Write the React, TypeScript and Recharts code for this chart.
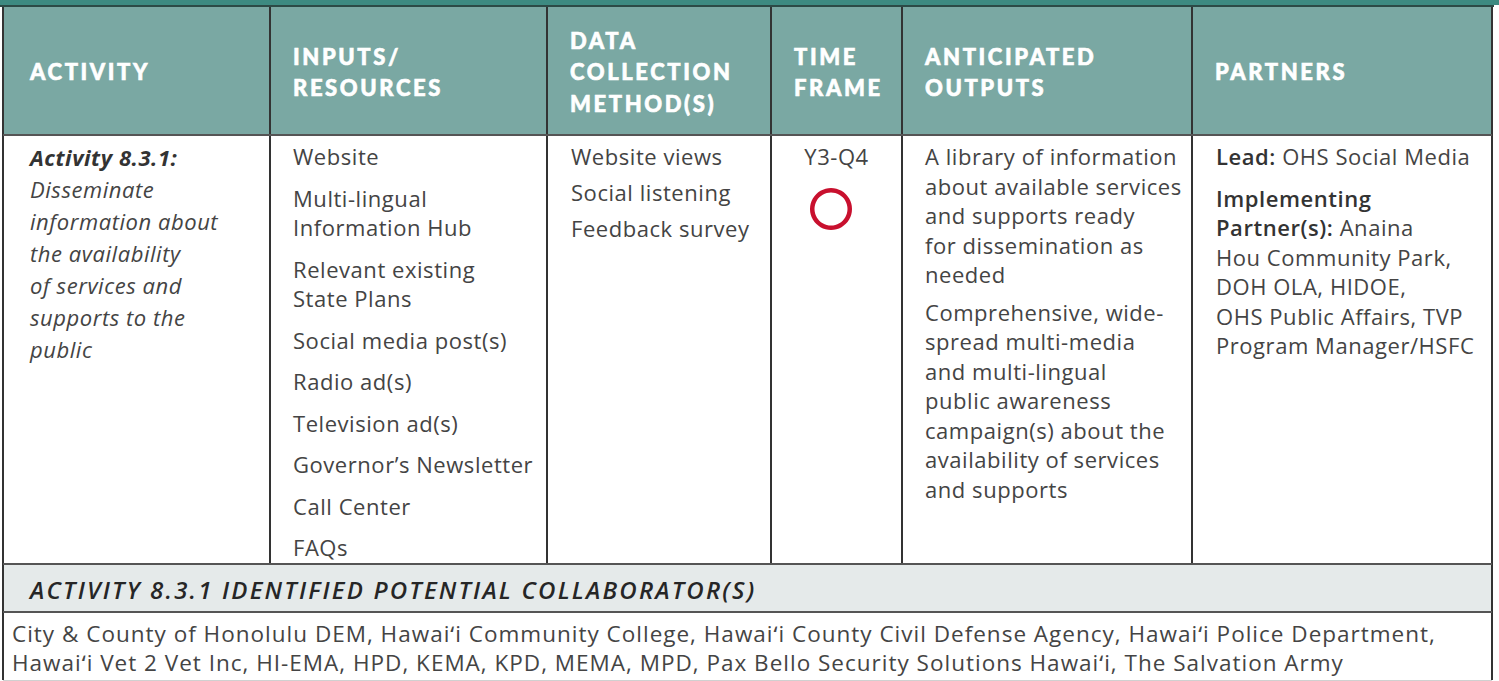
import React from 'react'
import { PieChart, Pie, Cell } from 'recharts'

// table content
const headers = [
  ['ACTIVITY'],
  ['INPUTS/', 'RESOURCES'],
  ['DATA', 'COLLECTION', 'METHOD(S)'],
  ['TIME', 'FRAME'],
  ['ANTICIPATED', 'OUTPUTS'],
  ['PARTNERS'],
]

const activityTitle = 'Activity 8.3.1:'
const activityLines = [
  'Disseminate',
  'information about',
  'the availability',
  'of services and',
  'supports to the',
  'public',
]

const inputs = [
  ['Website'],
  ['Multi-lingual', 'Information Hub'],
  ['Relevant existing', 'State Plans'],
  ['Social media post(s)'],
  ['Radio ad(s)'],
  ['Television ad(s)'],
  ['Governor\u2019s Newsletter'],
  ['Call Center'],
  ['FAQs'],
]

const dataMethods = ['Website views', 'Social listening', 'Feedback survey']

const timeFrame = 'Y3-Q4'
// status marker: one open ring = not started
const status = [{ name: 'Y3-Q4', value: 1 }]
const STATUS_COLOR = '#c8102e'

const outputs = [
  ['A library of information', 'about available services', 'and supports ready', 'for dissemination as', 'needed'],
  ['Comprehensive, wide-', 'spread multi-media', 'and multi-lingual', 'public awareness', 'campaign(s) about the', 'availability of services', 'and supports'],
]

const partners = [
  { label: 'Lead:', lines: [' OHS Social Media'] },
  {
    label: 'Implementing',
    lines: ['', 'Partner(s):|| Anaina', 'Hou Community Park,', 'DOH OLA, HIDOE,', 'OHS Public Affairs, TVP', 'Program Manager/HSFC'],
  },
]

const collaboratorsTitle = 'ACTIVITY 8.3.1 IDENTIFIED POTENTIAL COLLABORATOR(S)'
const collaborators = [
  'City & County of Honolulu DEM, Hawai\u02bbi Community College, Hawai\u02bbi County Civil Defense Agency, Hawai\u02bbi Police Department,',
  'Hawai\u02bbi Vet 2 Vet Inc, HI-EMA, HPD, KEMA, KPD, MEMA, MPD, Pax Bello Security Solutions Hawai\u02bbi, The Salvation Army',
]

const COL_X = [3, 270, 547, 771, 902, 1192, 1492]
const HEAD_TOP = 7
const BODY_TOP = 135
const COLLAB_TOP = 564
const LIST_TOP = 612
const BOTTOM = 680

const TEAL = '#7aa8a3'
const TEXT = '#444'
const LINE = '#333'
const FONT = '"Open Sans", "Noto Sans", sans-serif'
const HEAD_FONT = 'Lato, "Open Sans", sans-serif'

const abs = (s: React.CSSProperties): React.CSSProperties => ({ position: 'absolute', ...s })

function StatusRing() {
  return (
    <PieChart width={50} height={50} margin={{ top: 0, right: 0, bottom: 0, left: 0 }}>
      <Pie
        data={status}
        dataKey="value"
        cx={25}
        cy={25}
        innerRadius={16.5}
        outerRadius={21}
        startAngle={90}
        endAngle={-270}
        stroke="none"
        isAnimationActive={false}
      >
        {status.map((s, i) => (
          <Cell key={`ring-${i}`} fill={STATUS_COLOR} />
        ))}
      </Pie>
    </PieChart>
  )
}

export default function App() {
  const bodyText: React.CSSProperties = {
    fontFamily: FONT,
    fontSize: 22,
    letterSpacing: 0.55,
    lineHeight: '29.5px',
    color: TEXT,
    whiteSpace: 'nowrap',
  }
  const bold: React.CSSProperties = { fontWeight: 600, color: '#333' }

  return (
    <div style={abs({ left: 0, top: 0, width: 1499, height: 681, background: '#fff', overflow: 'hidden' })}>
      {/* top band */}
      <div style={abs({ left: 0, top: 0, width: 1499, height: 5, background: '#3d8a81' })} />
      <div style={abs({ left: 0, top: 5, width: 1494, height: 2, background: '#2c4a46' })} />
      <div style={abs({ left: COL_X[0], top: HEAD_TOP, width: COL_X[6] - COL_X[0], height: BODY_TOP - HEAD_TOP, background: TEAL })} />
      <div style={abs({ left: COL_X[0], top: COLLAB_TOP, width: COL_X[6] - COL_X[0], height: LIST_TOP - COLLAB_TOP, background: '#e5eaea' })} />

      {/* header cells */}
      {headers.map((h, i) => (
        <div
          key={`h-${i}`}
          style={abs({
            left: COL_X[i] + (i === 0 ? 27 : 23),
            top: HEAD_TOP + 1,
            height: BODY_TOP - HEAD_TOP,
            display: 'flex',
            flexDirection: 'column',
            justifyContent: 'center',
            fontFamily: HEAD_FONT,
            fontWeight: 900,
            fontSize: 22,
            letterSpacing: 2.6,
            lineHeight: '31.5px',
            color: '#fff',
            WebkitTextStroke: '0.6px #fff',
            whiteSpace: 'nowrap',
          })}
        >
          {h.map((l) => (
            <div key={l}>{l}</div>
          ))}
        </div>
      ))}

      {/* activity */}
      <div style={abs({ left: COL_X[0] + 27, top: BODY_TOP + 6, ...bodyText, lineHeight: '32px', fontStyle: 'italic' })}>
        <div style={{ fontWeight: 700, color: '#333' }}>{activityTitle}</div>
        {activityLines.map((l) => (
          <div key={l}>{l}</div>
        ))}
      </div>

      {/* inputs */}
      <div style={abs({ left: COL_X[1] + 23, top: BODY_TOP + 7, ...bodyText })}>
        {inputs.map((item, i) => (
          <div key={`in-${i}`} style={{ marginBottom: 12 }}>
            {item.map((l) => (
              <div key={l}>{l}</div>
            ))}
          </div>
        ))}
      </div>

      {/* data collection */}
      <div style={abs({ left: COL_X[2] + 24, top: BODY_TOP + 7, ...bodyText })}>
        {dataMethods.map((l) => (
          <div key={l} style={{ marginBottom: 6.5 }}>
            {l}
          </div>
        ))}
      </div>

      {/* time frame */}
      <div style={abs({ left: COL_X[3], width: COL_X[4] - COL_X[3], top: BODY_TOP + 7, ...bodyText, textAlign: 'center' })}>
        {timeFrame}
      </div>
      <div style={abs({ left: 806, top: 184, width: 50, height: 50 })}>
        <StatusRing />
      </div>

      {/* outputs */}
      <div style={abs({ left: COL_X[4] + 23, top: BODY_TOP + 7, ...bodyText })}>
        {outputs.map((item, i) => (
          <div key={`out-${i}`} style={{ marginBottom: 8 }}>
            {item.map((l) => (
              <div key={l}>{l}</div>
            ))}
          </div>
        ))}
      </div>

      {/* partners */}
      <div style={abs({ left: COL_X[5] + 24, top: BODY_TOP + 7, ...bodyText })}>
        {partners.map((p, i) => (
          <div key={`p-${i}`} style={{ marginBottom: 12 }}>
            <div>
              <b style={bold}>{p.label}</b>
              {p.lines[0]}
            </div>
            {p.lines.slice(1).map((l) => {
              const [b, rest] = l.includes('||') ? l.split('||') : ['', l]
              return (
                <div key={l}>
                  {b && <b style={bold}>{b}</b>}
                  {rest}
                </div>
              )
            })}
          </div>
        ))}
      </div>

      {/* collaborators */}
      <div
        style={abs({
          left: COL_X[0] + 27,
          top: COLLAB_TOP + 1,
          height: LIST_TOP - COLLAB_TOP,
          display: 'flex',
          alignItems: 'center',
          fontFamily: FONT,
          fontSize: 24,
          fontWeight: 600,
          fontStyle: 'italic',
          letterSpacing: 2.2,
          color: '#262626',
          whiteSpace: 'nowrap',
        })}
      >
        {collaboratorsTitle}
      </div>
      <div style={abs({ left: COL_X[0] + 9, top: LIST_TOP + 7, ...bodyText, fontSize: 22.5, letterSpacing: 1, lineHeight: '29px' })}>
        {collaborators.map((l) => (
          <div key={l}>{l}</div>
        ))}
      </div>

      {/* grid lines */}
      {COL_X.slice(1, 6).map((x) => (
        <div key={`v-${x}`} style={abs({ left: x - 0.75, top: HEAD_TOP, width: 1.5, height: COLLAB_TOP - HEAD_TOP, background: LINE })} />
      ))}
      <div style={abs({ left: COL_X[0] - 1, top: HEAD_TOP, width: 2, height: BOTTOM - HEAD_TOP, background: LINE })} />
      <div style={abs({ left: COL_X[6] - 1, top: HEAD_TOP, width: 2, height: BOTTOM - HEAD_TOP, background: LINE })} />
      <div style={abs({ left: COL_X[0], top: BODY_TOP - 1, width: COL_X[6] - COL_X[0], height: 2, background: '#555' })} />
      <div style={abs({ left: COL_X[0], top: COLLAB_TOP - 1, width: COL_X[6] - COL_X[0], height: 2, background: '#555' })} />
      <div style={abs({ left: COL_X[0], top: LIST_TOP - 1, width: COL_X[6] - COL_X[0], height: 2, background: '#555' })} />
      <div style={abs({ left: COL_X[0], top: BOTTOM, width: COL_X[6] - COL_X[0], height: 1, background: '#d0d0d0' })} />
    </div>
  )
}
